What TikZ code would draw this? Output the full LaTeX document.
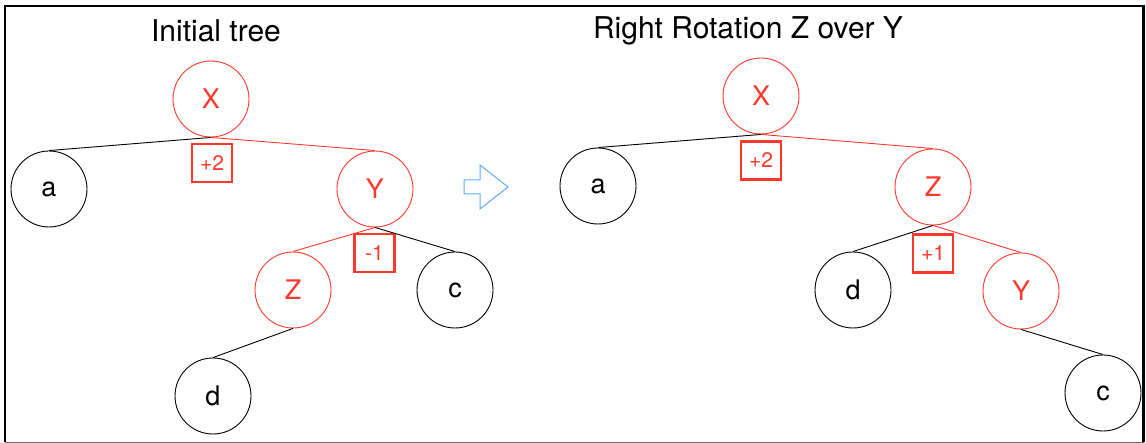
\documentclass[tikz,border=0pt]{standalone}
\usepackage{fontspec}
\setmainfont{TeX Gyre Heros}
\definecolor{rred}{RGB}{252,56,44}
\definecolor{rblue}{RGB}{95,170,245}
\definecolor{bgray}{RGB}{110,110,110}
\begin{document}
\begin{tikzpicture}[x=1pt,y=-1pt,
  tn/.style={circle,draw=black,line width=0.9pt,minimum size=76pt,inner sep=0pt,font=\fontsize{27}{27}\selectfont},
  rn/.style={tn,draw=rred,text=rred},
  bal/.style={draw=rred,line width=2.6pt,minimum width=40pt,minimum height=38pt,inner sep=0pt,text=rred,font=\fontsize{21}{21}\selectfont},
  ttl/.style={font=\fontsize{30}{30}\selectfont},
  be/.style={draw=black,line width=0.9pt},
  re/.style={draw=rred,line width=0.9pt}]
\useasboundingbox (0,0) rectangle (1146,443);
% frame
\draw[black,line width=2.4pt] (5,442) -- (5,6) -- (1143.5,6) -- (1143.5,442);
\draw[bgray,line width=1pt] (5,442) -- (1143.5,442);
% titles
\node[ttl] (t1) at (216,31) {Initial tree};
\node[ttl] (t2) at (748,31) {Right Rotation Z over Y};
% left tree
\node[rn] (X1) at (211,99) {X};
\node[tn] (a1) at (49,189) {a};
\node[rn] (Y1) at (375,189) {Y};
\node[rn] (Z1) at (293,290) {Z};
\node[tn] (c1) at (455,290) {c};
\node[tn] (d1) at (213,396) {d};
\node[bal] (b1) at (212,163) {+2};
\node[bal] (b2) at (374.5,253) {-1};
\draw[be] (X1.south) -- (a1.north);
\draw[re] (X1.south) -- (Y1.north);
\draw[re] (Y1.south) -- (Z1.north);
\draw[be] (Y1.south) -- (c1.north);
\draw[be] (Z1.south) -- (d1.north);
% arrow
\draw[rblue,line width=1pt,line join=miter] (464,180) -- (480,180) -- (480,165) -- (508,187) -- (480,209) -- (480,194) -- (464,194) -- cycle;
% right tree
\node[rn] (X2) at (761,96) {X};
\node[tn] (a2) at (598,186) {a};
\node[rn] (Z2) at (933,187) {Z};
\node[tn] (d2) at (853,290) {d};
\node[rn] (Y2) at (1021,291) {Y};
\node[tn] (c2) at (1103,393) {c};
\node[bal] (b3) at (761,160.5) {+2};
\node[bal] (b4) at (933,253.5) {+1};
\draw[be] (X2.south) -- (a2.north);
\draw[re] (X2.south) -- (Z2.north);
\draw[be] (Z2.south) -- (d2.north);
\draw[re] (Z2.south) -- (Y2.north);
\draw[be] (Y2.south) -- (c2.north);
\end{tikzpicture}
\end{document}
